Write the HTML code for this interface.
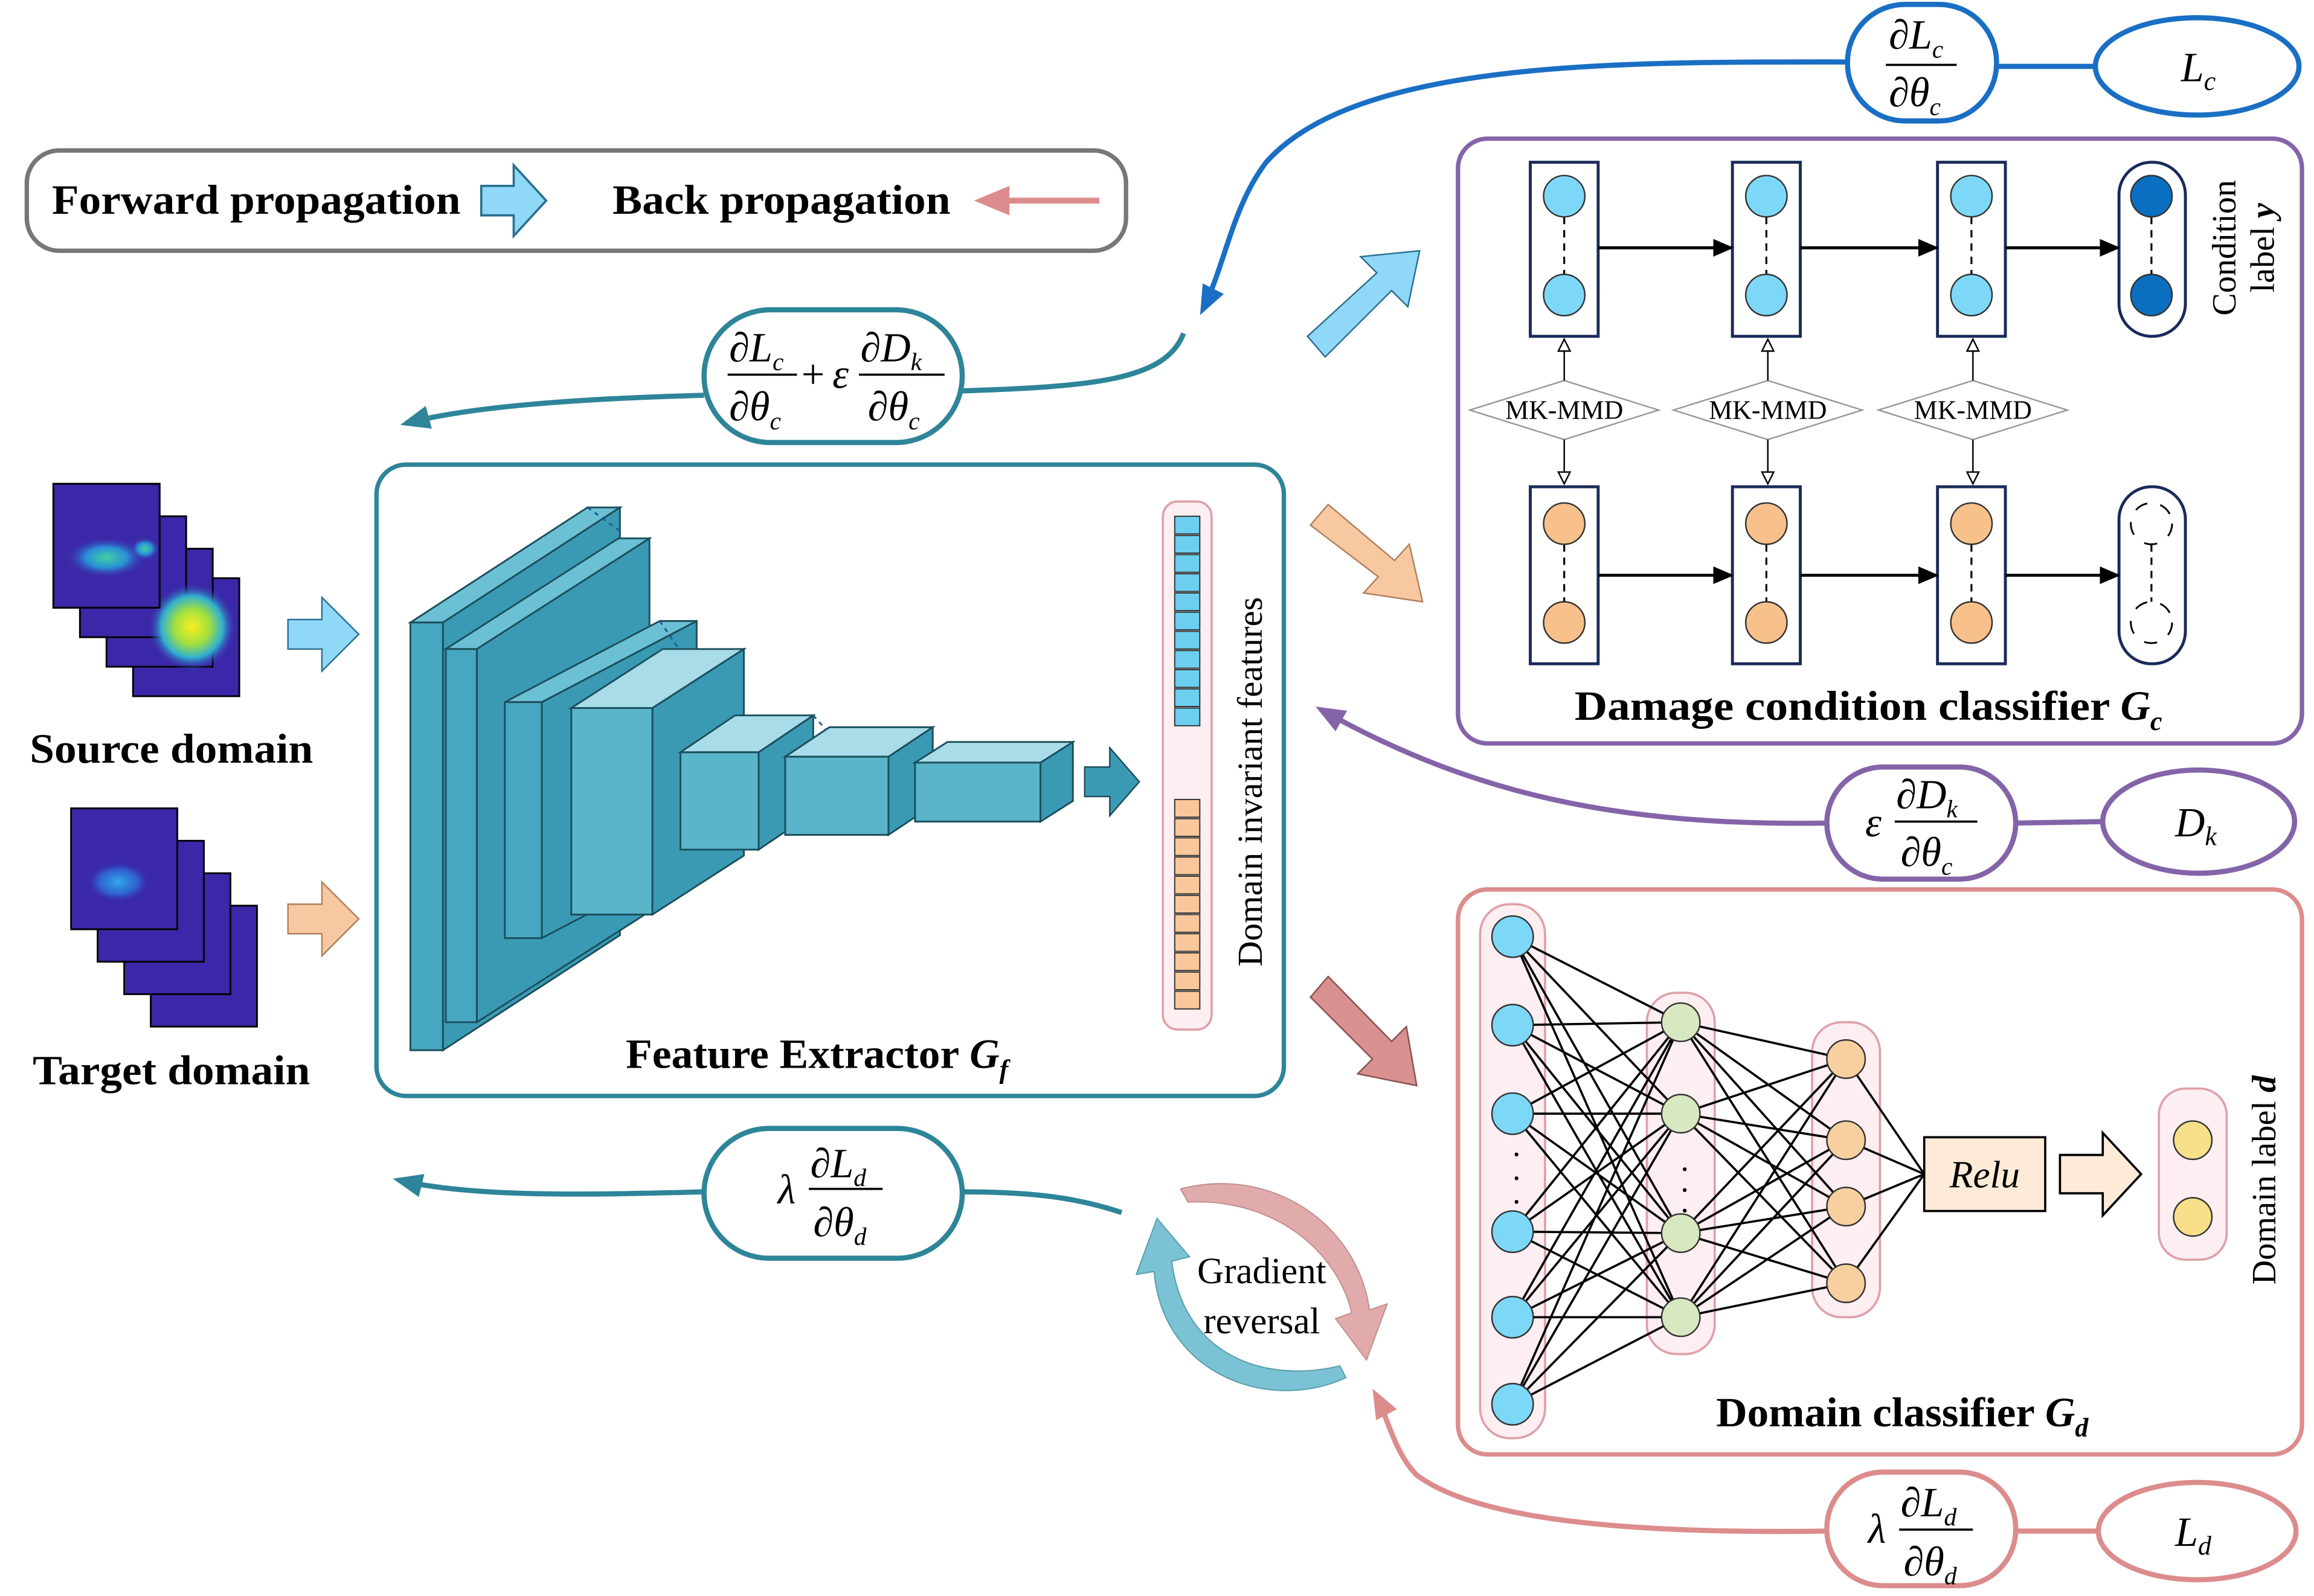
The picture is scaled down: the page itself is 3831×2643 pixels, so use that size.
<!DOCTYPE html>
<html><head><meta charset="utf-8"><style>html,body{margin:0;padding:0;background:#fff}svg{display:block}</style></head><body>
<svg width="3831" height="2643" viewBox="0 0 1568 1082" xmlns="http://www.w3.org/2000/svg" font-family="Liberation Serif, serif">
<defs>
<marker id="mb" markerWidth="20" markerHeight="16" refX="16" refY="8" orient="auto" markerUnits="userSpaceOnUse"><path d="M0,0L20,8L0,16z" fill="#1a6fc4"/></marker>
<marker id="mtl" markerWidth="20" markerHeight="16" refX="16" refY="8" orient="auto" markerUnits="userSpaceOnUse"><path d="M0,0L20,8L0,16z" fill="#2e8599"/></marker>
<marker id="mp" markerWidth="20" markerHeight="16" refX="16" refY="8" orient="auto" markerUnits="userSpaceOnUse"><path d="M0,0L20,8L0,16z" fill="#8464a8"/></marker>
<marker id="mr" markerWidth="20" markerHeight="16" refX="16" refY="8" orient="auto" markerUnits="userSpaceOnUse"><path d="M0,0L20,8L0,16z" fill="#dc8c8c"/></marker>
<marker id="mk" markerWidth="14" markerHeight="12" refX="13" refY="6" orient="auto" markerUnits="userSpaceOnUse"><path d="M0,0L14,6L0,12z" fill="#000"/></marker>
<marker id="mh" markerWidth="10" markerHeight="10" refX="9" refY="5" orient="auto" markerUnits="userSpaceOnUse"><path d="M1,1L9,5L1,9z" fill="#fff" stroke="#000" stroke-width="1"/></marker>
<radialGradient id="gc"><stop offset="0" stop-color="#40d0a0"/><stop offset="0.5" stop-color="#2a90d8"/><stop offset="1" stop-color="#3a28a8" stop-opacity="0"/></radialGradient>
<radialGradient id="gy"><stop offset="0" stop-color="#f8f020"/><stop offset="0.4" stop-color="#a0e040"/><stop offset="0.7" stop-color="#30b0d0"/><stop offset="1" stop-color="#3a28a8" stop-opacity="0"/></radialGradient>
<radialGradient id="gb"><stop offset="0" stop-color="#30a8e8"/><stop offset="0.6" stop-color="#3060d0"/><stop offset="1" stop-color="#3a28a8" stop-opacity="0"/></radialGradient>
</defs>

<!-- Legend -->
<rect x="18" y="102" width="745" height="68" rx="22" fill="#fff" stroke="#777" stroke-width="3"/>
<text x="35" y="145" font-size="28" font-weight="bold" textLength="277" lengthAdjust="spacingAndGlyphs">Forward propagation</text>
<path d="M326,126H348V112L370,136L348,160V146H326Z" fill="#8fd8f8" stroke="#2a6f90" stroke-width="1.5"/>
<text x="415" y="145" font-size="28" font-weight="bold" textLength="229" lengthAdjust="spacingAndGlyphs">Back propagation</text>
<line x1="745" y1="136" x2="678" y2="136" stroke="#dc8c8c" stroke-width="4"/>
<path d="M660,136L684,126L684,146z" fill="#dc8c8c"/>

<!-- Source / target images -->
<g stroke="#000" stroke-width="1.2">
<rect x="90" y="392" width="72" height="80" fill="#3a28a8"/>
<rect x="72" y="372" width="72" height="80" fill="#3a28a8"/>
<rect x="54" y="350" width="72" height="82" fill="#3a28a8"/>
<rect x="36" y="328" width="72" height="84" fill="#3a28a8"/>
</g>
<ellipse cx="130" cy="425" rx="30" ry="30" fill="url(#gy)"/>
<rect x="36" y="328" width="72" height="84" fill="#3a28a8" stroke="#000" stroke-width="1.2"/>
<ellipse cx="72" cy="378" rx="28" ry="14" fill="url(#gc)"/>
<ellipse cx="98" cy="372" rx="10" ry="8" fill="url(#gc)"/>
<g stroke="#000" stroke-width="1.2">
<rect x="102" y="614" width="72" height="82" fill="#3a28a8"/>
<rect x="84" y="592" width="72" height="82" fill="#3a28a8"/>
<rect x="66" y="570" width="72" height="82" fill="#3a28a8"/>
<rect x="48" y="548" width="72" height="82" fill="#3a28a8"/>
</g>
<ellipse cx="80" cy="598" rx="22" ry="14" fill="url(#gb)"/>
<text x="20" y="517" font-size="28" font-weight="bold" textLength="192" lengthAdjust="spacingAndGlyphs">Source domain</text>
<text x="22" y="735" font-size="28" font-weight="bold" textLength="188" lengthAdjust="spacingAndGlyphs">Target domain</text>
<path d="M195,420H218V405L243,430L218,455V440H195Z" fill="#8fd8f8" stroke="#2a6f90" stroke-width="1"/>
<path d="M195,613H218V598L243,623L218,648V633H195Z" fill="#f8c8a0" stroke="#b08060" stroke-width="1"/>

<!-- Feature extractor box -->
<rect x="255" y="315" width="615" height="428" rx="20" fill="#fff" stroke="#2e8599" stroke-width="3"/>
<g stroke="#1c4e5c" stroke-width="1.2">
<polygon points="300,422 420,344 420,634 300,712" fill="#3a9ab4"/>
<polygon points="278,422 398,344 420,344 300,422" fill="#6cc0d4"/>
<rect x="278" y="422" width="22" height="290" fill="#45a8c0"/>
<polygon points="323,440 440,365 440,618 323,693" fill="#3a9ab4"/>
<polygon points="302,440 419,365 440,365 323,440" fill="#6cc0d4"/>
<rect x="302" y="440" width="21" height="253" fill="#45a8c0"/>
<polygon points="367,476 472,421 472,581 367,636" fill="#3a9ab4"/>
<polygon points="342,476 447,421 472,421 367,476" fill="#6cc0d4"/>
<rect x="342" y="476" width="25" height="160" fill="#45a8c0"/>
<polygon points="442,480 504,440 504,580 442,620" fill="#3a9ab4"/>
<polygon points="387,480 449,440 504,440 442,480" fill="#a8dce8"/>
<rect x="387" y="480" width="55" height="140" fill="#5ab4ca"/>
<polygon points="514,510 551,485 551,551 514,576" fill="#3a9ab4"/>
<polygon points="461,510 498,485 551,485 514,510" fill="#a8dce8"/>
<rect x="461" y="510" width="53" height="66" fill="#5ab4ca"/>
<polygon points="602,513 632,493 632,546 602,566" fill="#3a9ab4"/>
<polygon points="532,513 562,493 632,493 602,513" fill="#a8dce8"/>
<rect x="532" y="513" width="70" height="53" fill="#5ab4ca"/>
<polygon points="705,517 727,503 727,543 705,557" fill="#3a9ab4"/>
<polygon points="620,517 642,503 727,503 705,517" fill="#a8dce8"/>
<rect x="620" y="517" width="85" height="40" fill="#5ab4ca"/>
</g>
<g stroke="#1a5a9a" stroke-width="1.2" stroke-dasharray="3,3" fill="none">
<line x1="398" y1="344" x2="420" y2="360"/><line x1="447" y1="421" x2="460" y2="440"/><line x1="551" y1="485" x2="560" y2="495"/>
</g>
<path d="M735,520H752V507L772,530L752,553V540H735Z" fill="#3a9ab4" stroke="#1c4e5c" stroke-width="1"/>
<rect x="788" y="340" width="33" height="358" rx="10" fill="#fdeef2" stroke="#e0a0a8" stroke-width="1.5"/>
<g stroke="#333" stroke-width="0.8">
<rect x="796" y="350" width="17" height="12" fill="#6ccff0"/><rect x="796" y="363" width="17" height="12" fill="#6ccff0"/><rect x="796" y="376" width="17" height="12" fill="#6ccff0"/><rect x="796" y="389" width="17" height="12" fill="#6ccff0"/><rect x="796" y="402" width="17" height="12" fill="#6ccff0"/><rect x="796" y="415" width="17" height="12" fill="#6ccff0"/><rect x="796" y="428" width="17" height="12" fill="#6ccff0"/><rect x="796" y="441" width="17" height="12" fill="#6ccff0"/><rect x="796" y="454" width="17" height="12" fill="#6ccff0"/><rect x="796" y="467" width="17" height="12" fill="#6ccff0"/><rect x="796" y="480" width="17" height="12" fill="#6ccff0"/>
<rect x="796" y="542" width="17" height="12" fill="#f8c89a"/><rect x="796" y="555" width="17" height="12" fill="#f8c89a"/><rect x="796" y="568" width="17" height="12" fill="#f8c89a"/><rect x="796" y="581" width="17" height="12" fill="#f8c89a"/><rect x="796" y="594" width="17" height="12" fill="#f8c89a"/><rect x="796" y="607" width="17" height="12" fill="#f8c89a"/><rect x="796" y="620" width="17" height="12" fill="#f8c89a"/><rect x="796" y="633" width="17" height="12" fill="#f8c89a"/><rect x="796" y="646" width="17" height="12" fill="#f8c89a"/><rect x="796" y="659" width="17" height="12" fill="#f8c89a"/><rect x="796" y="672" width="17" height="12" fill="#f8c89a"/>
</g>
<text transform="translate(855,530) rotate(-90)" font-size="24" text-anchor="middle">Domain invariant features</text>
<text x="424" y="724" font-size="28" font-weight="bold"><tspan textLength="226" lengthAdjust="spacingAndGlyphs">Feature Extractor</tspan> <tspan font-style="italic">G</tspan><tspan font-style="italic" font-size="18" dy="7">f</tspan></text>

<!-- Big arrows -->
<path d="M886,228L933,185L922,174L962,170L954,208L943,197L898,242Z" fill="#8fd8f8" stroke="#2a6f90" stroke-width="1"/>
<path d="M888,356L900,342L945,380L955,369L964,408L924,402L934,391Z" fill="#f8c8a0" stroke="#b08060" stroke-width="1"/>
<path d="M888,676L900,662L943,706L953,696L960,736L920,728L930,718Z" fill="#d89090" stroke="#8a5050" stroke-width="1"/>

<!-- Damage condition classifier -->
<rect x="988" y="94" width="572" height="410" rx="20" fill="#fff" stroke="#8464a8" stroke-width="3"/>
<g stroke="#1a2a5a" stroke-width="2" fill="#fff">
<rect x="1037" y="110" width="46" height="118"/><rect x="1174" y="110" width="46" height="118"/><rect x="1313" y="110" width="46" height="118"/>
<rect x="1037" y="330" width="46" height="120"/><rect x="1174" y="330" width="46" height="120"/><rect x="1313" y="330" width="46" height="120"/>
<rect x="1436" y="110" width="45" height="118" rx="22"/><rect x="1436" y="330" width="45" height="120" rx="22"/>
</g>
<g stroke="#000" stroke-width="1.3" stroke-dasharray="5,4">
<line x1="1060" y1="147" x2="1060" y2="186"/><line x1="1197" y1="147" x2="1197" y2="186"/><line x1="1336" y1="147" x2="1336" y2="186"/><line x1="1458" y1="147" x2="1458" y2="186"/>
<line x1="1060" y1="369" x2="1060" y2="408"/><line x1="1197" y1="369" x2="1197" y2="408"/><line x1="1336" y1="369" x2="1336" y2="408"/><line x1="1458" y1="369" x2="1458" y2="408"/>
</g>
<g stroke="#333" stroke-width="1">
<circle cx="1060" cy="133" r="14" fill="#7dd8f8"/><circle cx="1060" cy="200" r="14" fill="#7dd8f8"/>
<circle cx="1197" cy="133" r="14" fill="#7dd8f8"/><circle cx="1197" cy="200" r="14" fill="#7dd8f8"/>
<circle cx="1336" cy="133" r="14" fill="#7dd8f8"/><circle cx="1336" cy="200" r="14" fill="#7dd8f8"/>
<circle cx="1458" cy="133" r="14" fill="#0a6fc0"/><circle cx="1458" cy="200" r="14" fill="#0a6fc0"/>
<circle cx="1060" cy="355" r="14" fill="#f8c08a"/><circle cx="1060" cy="422" r="14" fill="#f8c08a"/>
<circle cx="1197" cy="355" r="14" fill="#f8c08a"/><circle cx="1197" cy="422" r="14" fill="#f8c08a"/>
<circle cx="1336" cy="355" r="14" fill="#f8c08a"/><circle cx="1336" cy="422" r="14" fill="#f8c08a"/>
</g>
<circle cx="1458" cy="355" r="14" fill="none" stroke="#000" stroke-width="1.2" stroke-dasharray="9,9"/>
<circle cx="1458" cy="422" r="14" fill="none" stroke="#000" stroke-width="1.2" stroke-dasharray="9,9"/>
<g stroke="#000" stroke-width="2" marker-end="url(#mk)">
<line x1="1083" y1="168" x2="1174" y2="168"/><line x1="1220" y1="168" x2="1313" y2="168"/><line x1="1359" y1="168" x2="1436" y2="168"/>
<line x1="1083" y1="390" x2="1174" y2="390"/><line x1="1220" y1="390" x2="1313" y2="390"/><line x1="1359" y1="390" x2="1436" y2="390"/>
</g>
<g stroke="#999" stroke-width="1" fill="#fff">
<polygon points="996,278 1060,258 1124,278 1060,298"/><polygon points="1134,278 1198,258 1262,278 1198,298"/><polygon points="1273,278 1337,258 1401,278 1337,298"/>
</g>
<g font-size="18" text-anchor="middle"><text x="1060" y="284">MK-MMD</text><text x="1198" y="284">MK-MMD</text><text x="1337" y="284">MK-MMD</text></g>
<g stroke="#000" stroke-width="1" marker-end="url(#mh)">
<line x1="1060" y1="258" x2="1060" y2="230"/><line x1="1198" y1="258" x2="1198" y2="230"/><line x1="1337" y1="258" x2="1337" y2="230"/>
<line x1="1060" y1="298" x2="1060" y2="328"/><line x1="1198" y1="298" x2="1198" y2="328"/><line x1="1337" y1="298" x2="1337" y2="328"/>
</g>
<text transform="translate(1515,168) rotate(-90)" font-size="23" text-anchor="middle">Condition</text>
<text transform="translate(1541,168) rotate(-90)" font-size="23" text-anchor="middle">label <tspan font-style="italic" font-weight="bold">y</tspan></text>
<text x="1067" y="488" font-size="28" font-weight="bold"><tspan textLength="363" lengthAdjust="spacingAndGlyphs">Damage condition classifier</tspan> <tspan font-style="italic">G</tspan><tspan font-style="italic" font-size="18" dy="7">c</tspan></text>

<!-- Domain classifier -->
<rect x="988" y="603" width="572" height="383" rx="20" fill="#fff" stroke="#dc8c8c" stroke-width="3"/>
<rect x="1003" y="613" width="44" height="362" rx="20" fill="#fdeef2" stroke="#e0a0a8" stroke-width="1.5"/>
<rect x="1116" y="673" width="46" height="245" rx="20" fill="#fdeef2" stroke="#e0a0a8" stroke-width="1.5"/>
<rect x="1228" y="693" width="46" height="200" rx="20" fill="#fdeef2" stroke="#e0a0a8" stroke-width="1.5"/>
<path stroke="#000" stroke-width="1.5" fill="none" d="
M1025 635L1139 693M1025 635L1139 755M1025 635L1139 836M1025 635L1139 893
M1025 695L1139 693M1025 695L1139 755M1025 695L1139 836M1025 695L1139 893
M1025 755L1139 693M1025 755L1139 755M1025 755L1139 836M1025 755L1139 893
M1025 835L1139 693M1025 835L1139 755M1025 835L1139 836M1025 835L1139 893
M1025 893L1139 693M1025 893L1139 755M1025 893L1139 836M1025 893L1139 893
M1025 952L1139 693M1025 952L1139 755M1025 952L1139 836M1025 952L1139 893
M1139 693L1251 718M1139 693L1251 773M1139 693L1251 818M1139 693L1251 870
M1139 755L1251 718M1139 755L1251 773M1139 755L1251 818M1139 755L1251 870
M1139 836L1251 718M1139 836L1251 773M1139 836L1251 818M1139 836L1251 870
M1139 893L1251 718M1139 893L1251 773M1139 893L1251 818M1139 893L1251 870
M1251 718L1304 796M1251 773L1304 796M1251 818L1304 796M1251 870L1304 796"/>
<g stroke="#333" stroke-width="1">
<circle cx="1025" cy="635" r="14" fill="#7dd8f8"/><circle cx="1025" cy="695" r="14" fill="#7dd8f8"/><circle cx="1025" cy="755" r="14" fill="#7dd8f8"/><circle cx="1025" cy="835" r="14" fill="#7dd8f8"/><circle cx="1025" cy="893" r="14" fill="#7dd8f8"/><circle cx="1025" cy="952" r="14" fill="#7dd8f8"/>
<circle cx="1139" cy="693" r="13" fill="#d8e8c0"/><circle cx="1139" cy="755" r="13" fill="#d8e8c0"/><circle cx="1139" cy="836" r="13" fill="#d8e8c0"/><circle cx="1139" cy="893" r="13" fill="#d8e8c0"/>
<circle cx="1251" cy="718" r="13" fill="#f8d0a0"/><circle cx="1251" cy="773" r="13" fill="#f8d0a0"/><circle cx="1251" cy="818" r="13" fill="#f8d0a0"/><circle cx="1251" cy="870" r="13" fill="#f8d0a0"/>
</g>
<rect x="1304" y="771" width="82" height="50" fill="#fdebd8" stroke="#000" stroke-width="1.5"/>
<text x="1345" y="805" font-size="26" font-style="italic" text-anchor="middle">Relu</text>
<path d="M1396,783H1425V768L1451,796L1425,824V809H1396Z" fill="#fdebd8" stroke="#000" stroke-width="1.5"/>
<rect x="1463" y="738" width="46" height="116" rx="18" fill="#fdeef2" stroke="#e0a0a8" stroke-width="1.5"/>
<circle cx="1486" cy="773" r="13" fill="#f8e08a" stroke="#333"/><circle cx="1486" cy="825" r="13" fill="#f8e08a" stroke="#333"/>
<text transform="translate(1542,800) rotate(-90)" font-size="23" text-anchor="middle">Domain label <tspan font-style="italic" font-weight="bold">d</tspan></text>
<text x="1163" y="967" font-size="28" font-weight="bold"><tspan textLength="216" lengthAdjust="spacingAndGlyphs">Domain classifier</tspan> <tspan font-style="italic">G</tspan><tspan font-style="italic" font-size="18" dy="7">d</tspan></text>

<!-- Connector curves -->
<path d="M1252,42C1100,42 920,40 858,110C835,140 830,180 815,210" fill="none" stroke="#1a6fc4" stroke-width="3.5" marker-end="url(#mb)"/>
<path d="M1353,45L1420,45" stroke="#1a6fc4" stroke-width="3.5"/>
<path d="M802,226C790,258 740,262 652,265" fill="none" stroke="#2e8599" stroke-width="3.5"/>
<path d="M477,268C400,270 320,275 275,287" fill="none" stroke="#2e8599" stroke-width="3.5" marker-end="url(#mtl)"/>
<path d="M1238,558C1100,560 1000,540 895,481" fill="none" stroke="#8464a8" stroke-width="3.5" marker-end="url(#mp)"/>
<path d="M1366,558L1425,557" stroke="#8464a8" stroke-width="3.5"/>
<path d="M760,822C730,812 700,808 652,808" fill="none" stroke="#2e8599" stroke-width="3.5"/>
<path d="M477,808C400,810 320,812 270,800" fill="none" stroke="#2e8599" stroke-width="3.5" marker-end="url(#mtl)"/>
<path d="M1238,1038C1100,1040 1000,1030 960,1000C945,985 940,960 932,945" fill="none" stroke="#dc8c8c" stroke-width="3.5" marker-end="url(#mr)"/>
<path d="M1366,1038L1422,1038" stroke="#dc8c8c" stroke-width="3.5"/>

<!-- Gradient reversal -->
<path d="M800,806C862,790 920,830 928,888L940,884L926,922L905,894L916,890C905,845 860,812 805,815Z" fill="#d89090" opacity="0.75" stroke="#b06868" stroke-width="0.8"/>
<path d="M912,934C860,958 788,932 782,862L770,864L784,826L806,852L794,855C802,920 858,938 908,926Z" fill="#5ab4ca" opacity="0.8" stroke="#2e8599" stroke-width="0.8"/>
<text x="855" y="870" font-size="25" text-anchor="middle">Gradient</text>
<text x="855" y="904" font-size="25" text-anchor="middle">reversal</text>

<!-- Pills and ellipses -->
<rect x="1252" y="3" width="101" height="79" rx="39" fill="#fff" stroke="#1a6fc4" stroke-width="3.5"/>
<ellipse cx="1489" cy="45" rx="69" ry="33" fill="#fff" stroke="#1a6fc4" stroke-width="3.5"/>
<rect x="477" y="210" width="175" height="90" rx="45" fill="#fff" stroke="#2e8599" stroke-width="3.5"/>
<rect x="1238" y="520" width="128" height="76" rx="38" fill="#fff" stroke="#8464a8" stroke-width="3.5"/>
<ellipse cx="1490" cy="557" rx="65" ry="35" fill="#fff" stroke="#8464a8" stroke-width="3.5"/>
<rect x="477" y="765" width="175" height="88" rx="44" fill="#fff" stroke="#2e8599" stroke-width="3.5"/>
<rect x="1238" y="998" width="128" height="77" rx="38" fill="#fff" stroke="#dc8c8c" stroke-width="3.5"/>
<ellipse cx="1489" cy="1038" rx="67" ry="33" fill="#fff" stroke="#dc8c8c" stroke-width="3.5"/>

<g font-size="28" font-style="italic">
<text x="1280" y="33">∂L<tspan font-size="17" dy="6">c</tspan></text>
<line x1="1278" y1="44" x2="1326" y2="44" stroke="#000" stroke-width="1.5"/>
<text x="1280" y="72">∂θ<tspan font-size="17" dy="6">c</tspan></text>
<text x="1478" y="55">L<tspan font-size="18" dy="6">c</tspan></text>
<text x="494" y="245">∂L<tspan font-size="17" dy="6">c</tspan></text>
<line x1="493" y1="254" x2="540" y2="254" stroke="#000" stroke-width="1.5"/>
<text x="494" y="285">∂θ<tspan font-size="17" dy="6">c</tspan></text>
<text x="543" y="263" font-style="normal">+</text>
<text x="564" y="263">ε</text>
<text x="583" y="245">∂D<tspan font-size="17" dy="6">k</tspan></text>
<line x1="582" y1="254" x2="640" y2="254" stroke="#000" stroke-width="1.5"/>
<text x="588" y="285">∂θ<tspan font-size="17" dy="6">c</tspan></text>
<text x="1264" y="567">ε</text>
<text x="1285" y="548">∂D<tspan font-size="17" dy="6">k</tspan></text>
<line x1="1284" y1="557" x2="1340" y2="557" stroke="#000" stroke-width="1.5"/>
<text x="1288" y="587">∂θ<tspan font-size="17" dy="6">c</tspan></text>
<text x="1474" y="567">D<tspan font-size="18" dy="6">k</tspan></text>
<text x="527" y="816">λ</text>
<text x="549" y="798">∂L<tspan font-size="17" dy="6">d</tspan></text>
<line x1="548" y1="806" x2="598" y2="806" stroke="#000" stroke-width="1.5"/>
<text x="551" y="838">∂θ<tspan font-size="17" dy="6">d</tspan></text>
<text x="1266" y="1046">λ</text>
<text x="1288" y="1028">∂L<tspan font-size="17" dy="6">d</tspan></text>
<line x1="1287" y1="1037" x2="1337" y2="1037" stroke="#000" stroke-width="1.5"/>
<text x="1290" y="1068">∂θ<tspan font-size="17" dy="6">d</tspan></text>
<text x="1474" y="1048">L<tspan font-size="18" dy="6">d</tspan></text>
</g>
<g font-size="22" fill="#000"><text x="1024" y="790">·</text><text x="1024" y="806">·</text><text x="1024" y="822">·</text><text x="1138" y="800">·</text><text x="1138" y="814">·</text><text x="1138" y="828">·</text></g>
</svg>
</body></html>
